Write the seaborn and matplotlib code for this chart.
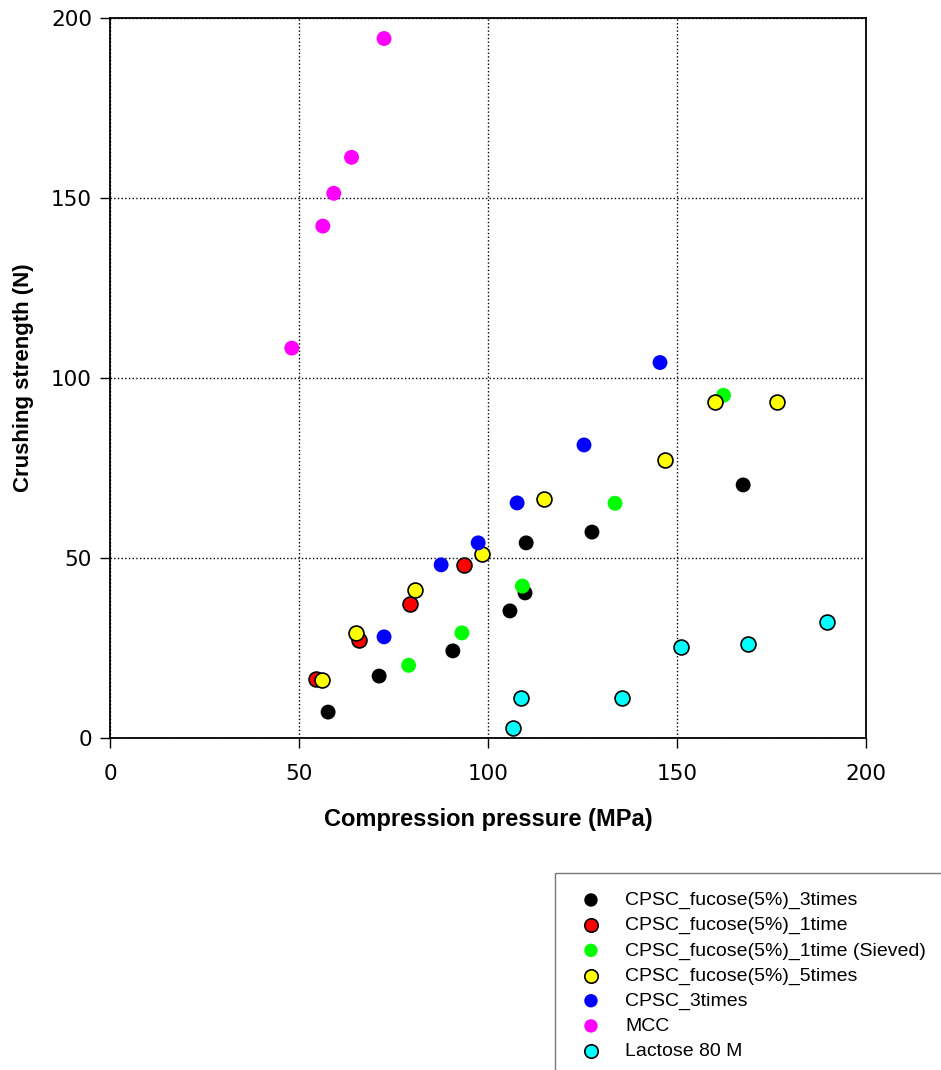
import seaborn as sns
import matplotlib.pyplot as plt
import pandas as pd

# values
names = ['CPSC_fucose(5%)_3times', 'CPSC_fucose(5%)_1time', 'CPSC_fucose(5%)_1time (Sieved)',
         'CPSC_fucose(5%)_5times', 'CPSC_3times', 'MCC', 'Lactose 80 M']
colors = ['black', 'red', '#00ff00', 'yellow', 'blue', 'magenta', 'cyan']
edges = ['none', 'black', 'none', 'black', 'none', 'none', 'black']

pressure = [
    [57.7, 71.2, 90.7, 105.8, 109.8, 110.1, 127.5, 167.5],
    [54.5, 65.9, 79.3, 93.7],
    [79.0, 93.1, 109.1, 133.6, 162.3],
    [56.1, 65.2, 80.8, 98.4, 114.8, 146.8, 160.1, 176.4],
    [72.5, 87.6, 97.4, 107.7, 125.4, 145.5],
    [48.1, 56.3, 59.2, 63.9, 72.5],
    [106.7, 108.7, 135.4, 151.1, 168.7, 189.6],
]
strength = [
    [7.2, 17.2, 24.2, 35.3, 40.3, 54.2, 57.2, 70.3],
    [16.4, 27.2, 37.1, 48.1],
    [20.2, 29.2, 42.2, 65.2, 95.2],
    [16.2, 29.3, 41.1, 51.1, 66.4, 77.3, 93.2, 93.2],
    [28.1, 48.1, 54.2, 65.3, 81.4, 104.3],
    [108.3, 142.2, 151.3, 161.3, 194.3],
    [2.7, 11.2, 11.2, 25.2, 26.1, 32.2],
]

sns.set_style('white', rc={'text.color': 'black', 'axes.labelcolor': 'black',
                           'xtick.color': 'black', 'ytick.color': 'black'})
fig = plt.figure(figsize=(9.41, 10.70), dpi=100)
ax = fig.add_axes([110 / 941, 1 - 738 / 1070, 756 / 941, 720 / 1070])

for i in range(len(names)):
    df = pd.DataFrame({'x': pressure[i], 'y': strength[i]})
    sns.scatterplot(data=df, x='x', y='y', ax=ax, color=colors[i],
                    edgecolor=edges[i], linewidth=1.2, s=115, label=names[i], zorder=3)

ax.set_xlim(0, 200)
ax.set_ylim(0, 200)
ax.set_xticks([0, 50, 100, 150, 200])
ax.set_yticks([0, 50, 100, 150, 200])
ax.set_axisbelow(True)
ax.grid(True, linestyle=':', color='black', linewidth=1)
for sp in ax.spines.values():
    sp.set_color('black')
    sp.set_linewidth(1.3)
    sp.set_zorder(4)
ax.tick_params(axis='both', direction='out', length=7, width=1, color='black',
               labelcolor='black', labelsize=15.5, bottom=True, left=True)
ax.tick_params(axis='x', pad=12)
ax.tick_params(axis='y', pad=6)
for lab in ax.get_xticklabels() + ax.get_yticklabels():
    lab.set_family('DejaVu Sans')
ax.set_xlabel('Compression pressure (MPa)', fontsize=17, fontweight='bold',
              family='Liberation Sans', labelpad=17, color='black')
ax.set_ylabel('Crushing strength (N)', fontsize=16, fontweight='bold',
              family='Liberation Sans', labelpad=12, color='black')

ax.legend_.remove()
h, l = ax.get_legend_handles_labels()
leg = fig.legend(h, l, loc='upper left', bbox_to_anchor=(555 / 941, 1 - 873 / 1070),
                 frameon=True, fancybox=False, edgecolor='#555555',
                 prop={'family': 'Liberation Sans', 'size': 14},
                 labelspacing=0.38, handletextpad=0.86, borderpad=0.95,
                 borderaxespad=0, handlelength=1.8, markerscale=0.9,
                 labelcolor='black')
leg.get_frame().set_linewidth(1)

fig.savefig('out.png', dpi=100)
